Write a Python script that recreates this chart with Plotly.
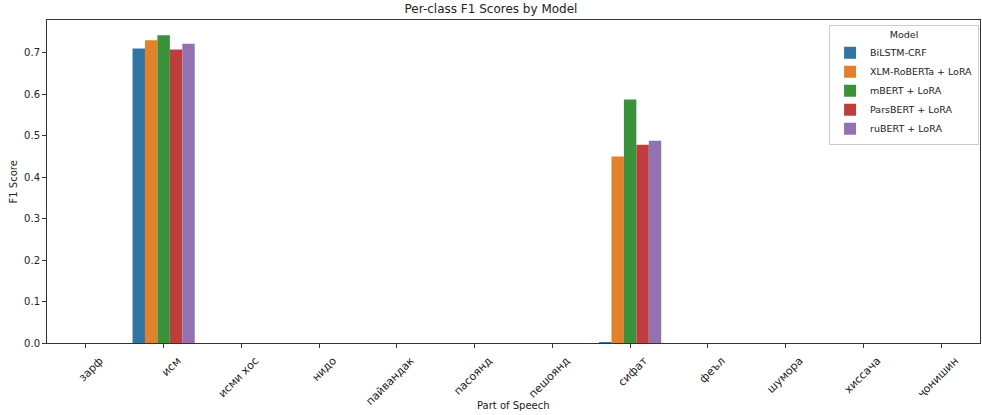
import plotly.graph_objects as go

categories = ["зарф", "исм", "исми хос", "нидо", "пайвандак", "пасоянд",
              "пешоянд", "сифат", "феъл", "шумора", "хиссача", "ҷонишин"]
models = ["BiLSTM-CRF", "XLM-RoBERTa + LoRA", "mBERT + LoRA", "ParsBERT + LoRA", "ruBERT + LoRA"]
bilstm = [0, 0.710, 0, 0, 0, 0, 0, 0.002, 0, 0, 0, 0]
xlmr = [0, 0.730, 0, 0, 0, 0, 0, 0.450, 0, 0, 0, 0]
mbert = [0, 0.742, 0, 0, 0, 0, 0, 0.587, 0, 0, 0, 0]
parsbert = [0, 0.708, 0, 0, 0, 0, 0, 0.478, 0, 0, 0, 0]
rubert = [0, 0.722, 0, 0, 0, 0, 0, 0.488, 0, 0, 0, 0]
series = [bilstm, xlmr, mbert, parsbert, rubert]
colors = ["#3274a1", "#e1812c", "#3a923a", "#c03d3e", "#9372b2"]

fig = go.Figure()
for name, vals, col in zip(models, series, colors):
    fig.add_trace(go.Bar(x=categories, y=vals, name=name, marker_color=col,
                         marker_line_width=0))

axis_common = dict(showline=True, linecolor="#333333", linewidth=1, mirror=True,
                   ticks="outside", ticklen=4, tickcolor="#333333", showgrid=False,
                   zeroline=False, automargin=False)

fig.update_layout(
    width=982, height=415,
    font=dict(family="DejaVu Sans", color="#222222"),
    paper_bgcolor="white", plot_bgcolor="white",
    margin=dict(l=47, r=2, t=20, b=72, autoexpand=False),
    barmode="group", bargap=0.2, bargroupgap=0,
    title=dict(text="Per-class F1 Scores by Model", x=0.5, xanchor="center",
               y=0.99, yanchor="top", font=dict(size=12)),
    xaxis=dict(tickangle=-45, ticklabelshift=14, ticklabelstandoff=2,
               tickfont=dict(size=11, color="#222222"), **axis_common),
    yaxis=dict(range=[0, 0.779], tick0=0, dtick=0.1, tickformat=".1f",
               tickfont=dict(size=10, color="#222222"), **axis_common),
    legend=dict(x=0.999, y=0.985, xanchor="right", yanchor="top",
                bgcolor="rgba(255,255,255,0.8)", bordercolor="#cccccc", borderwidth=1,
                font=dict(size=9.5), title=dict(text="Model", side="top center", font=dict(size=9.5)),
                itemwidth=30, tracegroupgap=0),
    showlegend=True,
    annotations=[
        dict(text="Part of Speech", xref="paper", yref="paper", x=0.5, y=-0.192,
             xanchor="center", yanchor="middle", showarrow=False, font=dict(size=10)),
        dict(text="F1 Score", xref="paper", yref="paper", x=-0.0354, y=0.5,
             xanchor="center", yanchor="middle", textangle=-90, showarrow=False,
             font=dict(size=10)),
    ],
)

fig.write_html("out.html", config={"displayModeBar": False},
               post_script="document.body.style.margin='0';")
